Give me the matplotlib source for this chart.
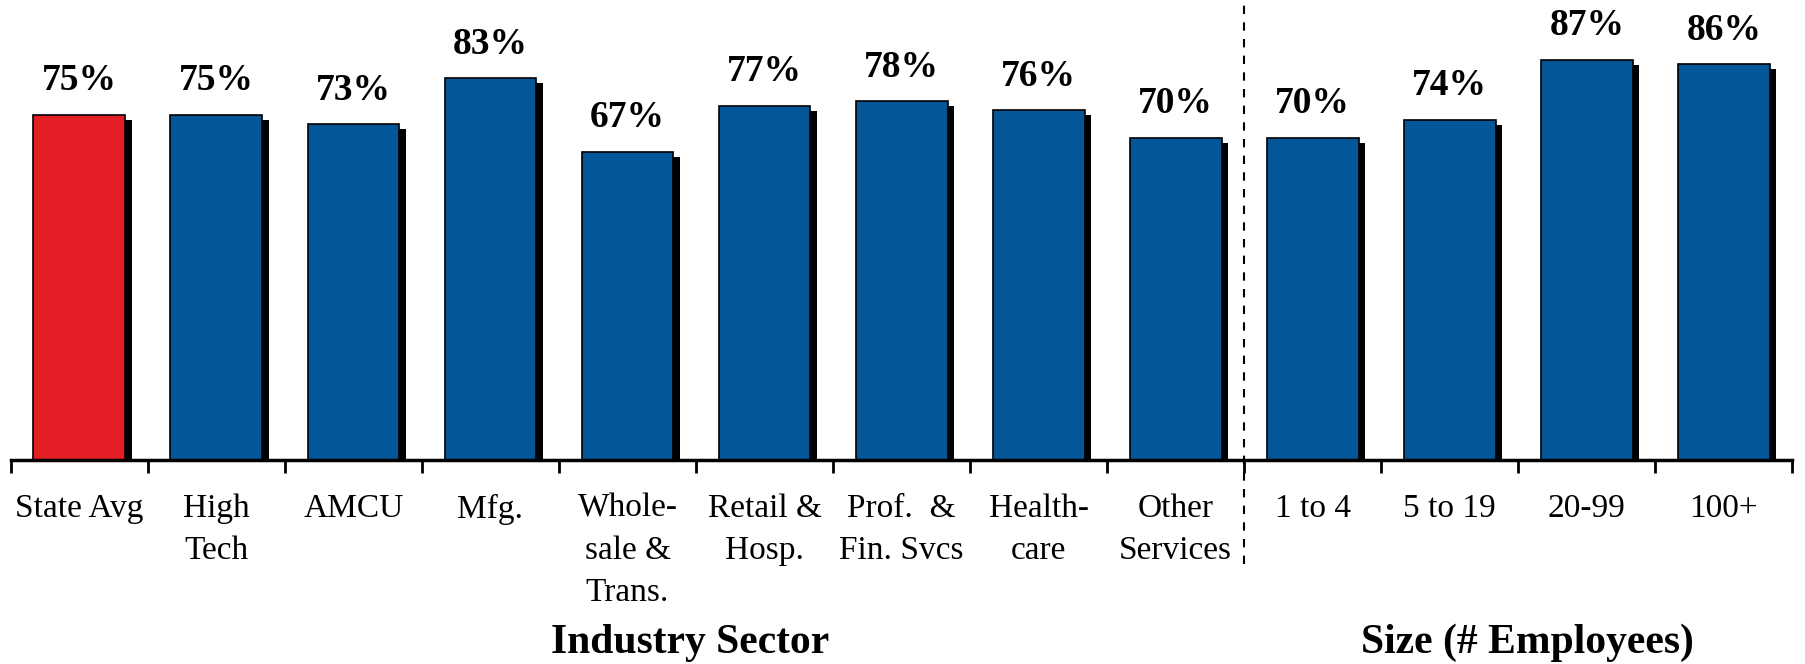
import matplotlib
matplotlib.use('Agg')

import matplotlib.pyplot as plt
import matplotlib.patheffects as pe
import numpy as np

# ---------------- DATA ----------------
categories = ["State Avg", "High\nTech", "AMCU", "Mfg.", "Whole-\nsale &\nTrans.",
              "Retail &\nHosp.", "Prof.  &\nFin. Svcs", "Health-\ncare", "Other\nServices",
              "1 to 4", "5 to 19", "20-99", "100+"]
values = [75, 75, 73, 83, 67, 77, 78, 76, 70, 70, 74, 87, 86]
group_names = ["Industry Sector", "Size (# Employees)"]
group_split = 9  # first size-group bar

RED = "#E31E25"
BLUE = "#035798"

plt.rcParams['font.family'] = ['Liberation Serif', 'DejaVu Serif']

# ---------------- FIGURE ----------------
fig = plt.figure(figsize=(18.05, 6.64), dpi=100)
ax = fig.add_axes([0.006, 0.307, 0.987, 0.693])

x = np.arange(len(values))
colors = [RED] + [BLUE] * (len(values) - 1)
bars = ax.bar(x, values, width=0.67, color=colors, edgecolor='black', linewidth=1.2)
for b in bars:
    b.set_path_effects([pe.SimplePatchShadow(offset=(4.5, -3.6), shadow_rgbFace='black', alpha=1.0),
                        pe.Normal()])

for xi, v in zip(x, values):
    ax.annotate(f"{v}%", (xi, v), xytext=(0, 12), textcoords='offset points',
                ha='center', va='bottom', fontsize=27, fontweight='bold')

ax.set_xlim(-0.5, len(values) - 0.5)
ax.set_ylim(0, 100)

# axes cosmetics
for s in ['top', 'right', 'left']:
    ax.spines[s].set_visible(False)
ax.spines['bottom'].set_linewidth(2.5)
ax.set_yticks([])

ax.set_xticks(x)
ax.set_xticklabels(categories, fontsize=24, linespacing=1.5, va='top')
ax.tick_params(axis='x', which='major', length=0, pad=24)
ax.set_xticks(np.arange(-0.5, len(values)), minor=True)
ax.tick_params(axis='x', which='minor', length=9, width=2, direction='out')

# divider between industry and size groups
ax.axvline(group_split - 0.5, ymin=-0.225, ymax=1.0, color='black', linestyle=(0, (4, 4)),
           linewidth=1.5, clip_on=False)

# group titles
fig.text(690 / 1805, 1 - 643 / 664, group_names[0], ha='center', va='center',
         fontsize=30, fontweight='bold')
fig.text(1527 / 1805, 1 - 643 / 664, group_names[1], ha='center', va='center',
         fontsize=30, fontweight='bold')

fig.savefig("out.png", dpi=100)
